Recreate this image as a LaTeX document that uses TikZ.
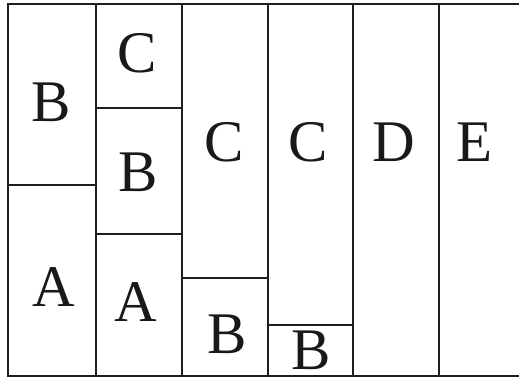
\documentclass[tikz,border=0pt]{standalone}
\usepackage{fontspec}
\setmainfont{Liberation Serif}
\definecolor{linea}{HTML}{1E1E1E}
\tikzset{
  lettera/.style={inner sep=0pt, text=black!90, font=\fontsize{59}{59}\selectfont},
  bordo/.style={draw=linea, line width=2.8pt}
}
\begin{document}
\begin{tikzpicture}[x=1pt, y=-1pt]
        \useasboundingbox (0,0) rectangle (519,379);

        % Cornice esterna (il lato destro esce dal foglio)
        \draw[bordo] (530,4) -- (8,4) -- (8,376) -- (530,376);

        % Colonne
        \foreach \cx in {96,182,268,353,439}
            \draw[bordo] (\cx,4) -- (\cx,376);

        % Divisioni orizzontali
        \draw[bordo] (8,185) -- (96,185);
        \draw[bordo] (96,108) -- (182,108);
        \draw[bordo] (96,234) -- (182,234);
        \draw[bordo] (182,278) -- (268,278);
        \draw[bordo] (268,325) -- (353,325);

        % Lettere
        \node[lettera] (b1) at (51,102) {B};
        \node[lettera] (a1) at (54,287) {A};
        \node[lettera] (c2) at (137,53) {C};
        \node[lettera] (b2) at (138,172) {B};
        \node[lettera] (a2) at (136,302) {A};
        \node[lettera] (c3) at (224,142) {C};
        \node[lettera] (b3) at (227,334) {B};
        \node[lettera] (c4) at (308,142) {C};
        \node[lettera] (b4) at (311,350) {B};
        \node[lettera] (d5) at (394,142) {D};
        \node[lettera] (e6) at (475,142) {E};
    \end{tikzpicture}
\end{document}
